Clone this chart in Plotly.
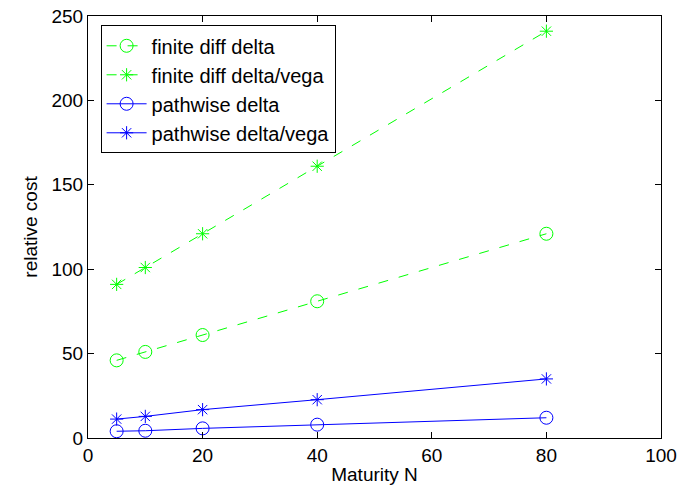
import plotly.graph_objects as go

maturity = [5, 10, 20, 40, 80]
fd_delta = [46, 51, 61, 81, 121]
fd_delta_vega = [91, 101, 121, 161, 241]
pw_delta = [4.0, 4.3, 5.7, 7.9, 12]
pw_delta_vega = [11.2, 12.8, 16.8, 22.7, 35]

green = "#00ff00"
blue = "#0000ff"

fig = go.Figure()
series = [
    ("finite diff delta", fd_delta, green, "10px,11px", "circle-open", 13),
    ("finite diff delta/vega", fd_delta_vega, green, "10px,11px", "asterisk-open", 11),
    ("pathwise delta", pw_delta, blue, "solid", "circle-open", 13),
    ("pathwise delta/vega", pw_delta_vega, blue, "solid", "asterisk-open", 11),
]
for name, ys, col, dash, sym, sz in series:
    fig.add_trace(go.Scatter(
        x=maturity, y=ys, name=name, mode="lines+markers",
        line=dict(color=col, width=1, dash=dash),
        marker=dict(symbol=sym, size=sz, color=col, line=dict(color=col, width=1)),
    ))

axis_common = dict(
    showgrid=False, zeroline=False, showline=True, linecolor="black", linewidth=1,
    mirror="ticks", ticks="inside", ticklen=6, tickcolor="black",
    tickfont=dict(size=19, color="black"),
)
fig.update_xaxes(range=[0, 100], dtick=20,
                 title=dict(text="Maturity N", font=dict(size=19, color="black"), standoff=2),
                 **axis_common)
fig.update_yaxes(range=[0, 250], dtick=50,
                 title=dict(text="relative cost", font=dict(size=19, color="black"), standoff=8),
                 **axis_common)

fig.update_layout(
    width=687, height=493,
    margin=dict(l=88, r=26, t=16, b=55, autoexpand=False),
    paper_bgcolor="white", plot_bgcolor="white",
    font=dict(family="Liberation Sans, Arial, sans-serif", size=19, color="black"),
    legend=dict(
        x=0.022, y=0.978, xanchor="left", yanchor="top",
        bgcolor="white", bordercolor="black", borderwidth=1,
        font=dict(size=20), tracegroupgap=0, itemwidth=40,
    ),
)
fig.write_html("out.html", config={"displayModeBar": False},
               post_script="document.body.style.margin='0px';")
